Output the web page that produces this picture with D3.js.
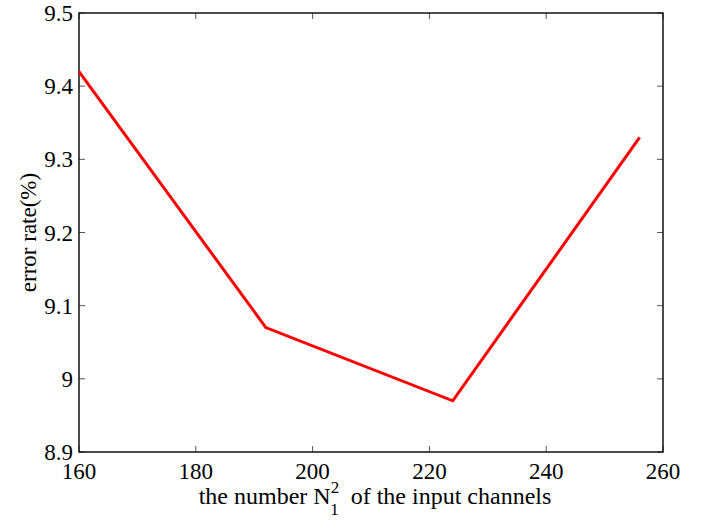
<!DOCTYPE html>
<html>
<head>
<meta charset="utf-8">
<script src="https://cdn.jsdelivr.net/npm/d3@7"></script>
<style>
  body { margin: 0; background: #fff; }
  text { font-family: "Liberation Serif", "Times New Roman", serif; }
</style>
</head>
<body>
<script>
// data
let channels = [160, 192, 224, 256];
let errorRates = [9.42, 9.07, 8.97, 9.33];
let xTicks = [160, 180, 200, 220, 240, 260];
let yTicks = [8.9, 9, 9.1, 9.2, 9.3, 9.4, 9.5];

let width = 709, height = 525;
let margins = { left: 79, top: 13, right: 46, bottom: 73 };
let plotW = width - margins.left - margins.right;
let plotH = height - margins.top - margins.bottom;

let svg = d3.select("body").append("svg")
  .attr("width", width)
  .attr("height", height);

let xScale = d3.scaleLinear().domain([160, 260]).range([0, plotW]);
let yScale = d3.scaleLinear().domain([8.9, 9.5]).range([plotH, 0]);

let container = svg.append("g")
  .attr("transform", `translate(${margins.left}, ${margins.top})`);

// tick marks on all four sides, pointing inward
let tickLen = 6;
let tickG = container.append("g")
  .attr("stroke", "#555")
  .attr("stroke-width", 1);
tickG.selectAll(".xb").data(xTicks).join("line")
  .attr("x1", d => xScale(d)).attr("x2", d => xScale(d))
  .attr("y1", plotH).attr("y2", plotH - tickLen);
tickG.selectAll(".xt").data(xTicks).join("line")
  .attr("x1", d => xScale(d)).attr("x2", d => xScale(d))
  .attr("y1", 0).attr("y2", tickLen);
tickG.selectAll(".yl").data(yTicks).join("line")
  .attr("y1", d => yScale(d)).attr("y2", d => yScale(d))
  .attr("x1", 0).attr("x2", tickLen);
tickG.selectAll(".yr").data(yTicks).join("line")
  .attr("y1", d => yScale(d)).attr("y2", d => yScale(d))
  .attr("x1", plotW).attr("x2", plotW - tickLen);

// the frame
container.append("rect")
  .attr("width", plotW).attr("height", plotH)
  .attr("fill", "none")
  .attr("stroke", "#111")
  .attr("stroke-width", 1.5);

// the line
let line = d3.line()
  .x((d, i) => xScale(channels[i]))
  .y(d => yScale(d));
container.append("path")
  .datum(errorRates)
  .attr("d", line)
  .attr("fill", "none")
  .attr("stroke", "#ff0000")
  .attr("stroke-width", 3)
  .attr("stroke-linejoin", "miter");

// tick labels
container.selectAll(".xlab").data(xTicks).join("text")
  .attr("x", d => xScale(d))
  .attr("y", plotH + 27)
  .attr("text-anchor", "middle")
  .attr("font-size", 23)
  .text(d => d);
container.selectAll(".ylab").data(yTicks).join("text")
  .attr("x", -6)
  .attr("y", d => yScale(d))
  .attr("dy", "0.35em")
  .attr("text-anchor", "end")
  .attr("font-size", 23)
  .text(d => d);

// x label with stacked super/subscript
let xLabel = svg.append("text")
  .attr("x", margins.left + plotW / 2 + 4)
  .attr("y", 504)
  .attr("text-anchor", "middle")
  .attr("font-size", 24);
xLabel.append("tspan").text("the number N");
xLabel.append("tspan").attr("font-size", 17).attr("dy", -11).text("2");
xLabel.append("tspan").attr("font-size", 17).attr("dx", -9).attr("dy", 22).text("1");
xLabel.append("tspan").attr("dy", -11).text("\u00a0\u00a0of the input channels");

// y label
svg.append("g")
  .attr("transform", `translate(28, ${margins.top + plotH / 2})`)
  .append("text").text("error rate(%)")
  .attr("text-anchor", "middle")
  .attr("dy", "0.35em")
  .attr("font-size", 23)
  .attr("transform", "rotate(-90)");
</script>
</body>
</html>
